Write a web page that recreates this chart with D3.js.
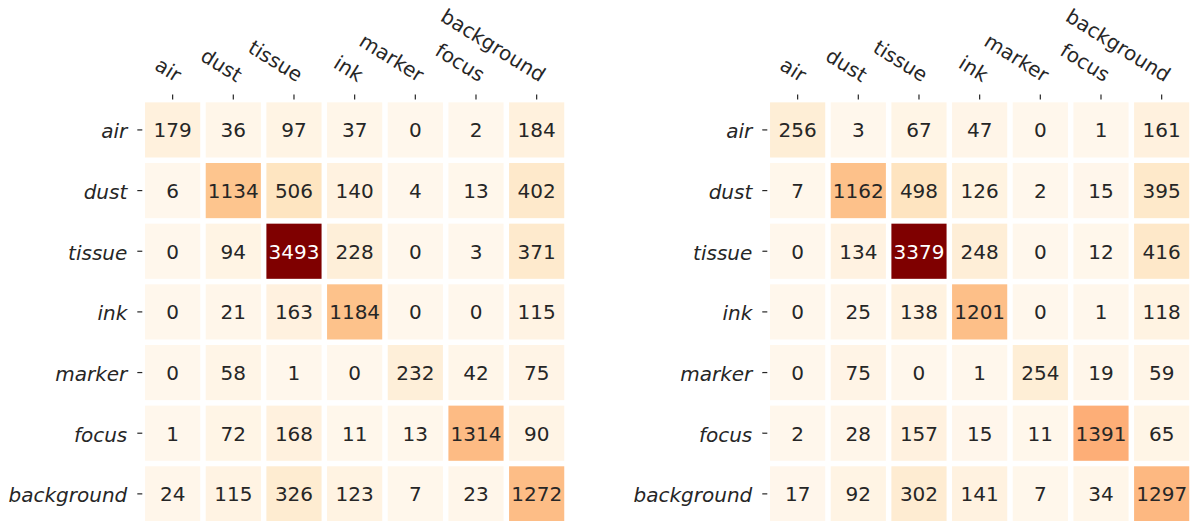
<!DOCTYPE html>
<html>
<head>
<meta charset="utf-8">
<script src="https://cdn.jsdelivr.net/npm/d3@7"></script>
<style>
  html, body { margin: 0; padding: 0; background: #fff; }
  svg { display: block; font-family: "DejaVu Sans", sans-serif; }
</style>
</head>
<body>
<svg id="chart" width="1190" height="521"></svg>
<script>
// ---- data ----
const categories = ["air", "dust", "tissue", "ink", "marker", "focus", "background"];

const leftValues = [
  [179, 36, 97, 37, 0, 2, 184],
  [6, 1134, 506, 140, 4, 13, 402],
  [0, 94, 3493, 228, 0, 3, 371],
  [0, 21, 163, 1184, 0, 0, 115],
  [0, 58, 1, 0, 232, 42, 75],
  [1, 72, 168, 11, 13, 1314, 90],
  [24, 115, 326, 123, 7, 23, 1272]
];

const rightValues = [
  [256, 3, 67, 47, 0, 1, 161],
  [7, 1162, 498, 126, 2, 15, 395],
  [0, 134, 3379, 248, 0, 12, 416],
  [0, 25, 138, 1201, 0, 1, 118],
  [0, 75, 0, 1, 254, 19, 59],
  [2, 28, 157, 15, 11, 1391, 65],
  [17, 92, 302, 141, 7, 34, 1297]
];

const orRdColors = ["#fff7ec","#fee8c8","#fdd49e","#fdbb84","#fc8d59","#ef6548","#d7301f","#b30000","#7f0000"];

// ---- layout ----
const svg = d3.select("#chart");
const panels = [
  { values: leftValues, x0: 142.3, x1: 567.0 },
  { values: rightValues, x0: 767.3, x1: 1192.0 }
];
const yTop = 99.6, yBot = 524.2;
const gap = 5.5;
const fontSize = 20;
const tickLen = 5;
const textDark = "#262626";

function luminance(c) {
  const rgb = d3.rgb(c);
  const f = v => { v /= 255; return v <= 0.03928 ? v / 12.92 : Math.pow((v + 0.055) / 1.055, 2.4); };
  return 0.2126 * f(rgb.r) + 0.7152 * f(rgb.g) + 0.0722 * f(rgb.b);
}

panels.forEach(p => {
  const x = d3.scaleBand().domain(categories).range([p.x0, p.x1]).padding(0);
  const y = d3.scaleBand().domain(categories).range([yTop, yBot]).padding(0);
  const vmax = d3.max(p.values.flat());
  const vmin = d3.min(p.values.flat());
  const color = d3.scaleLinear()
    .domain(orRdColors.map((c, i) => vmin + (vmax - vmin) * i / (orRdColors.length - 1)))
    .range(orRdColors)
    .interpolate(d3.interpolateRgb);

  const g = svg.append("g");
  const cells = [];
  p.values.forEach((row, ri) => row.forEach((v, ci) => cells.push({ r: categories[ri], c: categories[ci], v })));

  g.selectAll("rect.cell").data(cells).join("rect")
    .attr("class", "cell")
    .attr("x", d => x(d.c) + gap / 2)
    .attr("y", d => y(d.r) + gap / 2)
    .attr("width", x.bandwidth() - gap)
    .attr("height", y.bandwidth() - gap)
    .attr("fill", d => color(d.v));

  g.selectAll("text.annot").data(cells).join("text")
    .attr("class", "annot")
    .attr("x", d => x(d.c) + x.bandwidth() / 2)
    .attr("y", d => y(d.r) + y.bandwidth() / 2 + fontSize * 0.3645)
    .attr("text-anchor", "middle")
    .attr("font-size", fontSize)
    .attr("fill", d => luminance(color(d.v)) > 0.408 ? textDark : "#ffffff")
    .text(d => d.v);

  // top x ticks
  g.selectAll("line.xtick").data(categories).join("line")
    .attr("x1", d => x(d) + x.bandwidth() / 2)
    .attr("x2", d => x(d) + x.bandwidth() / 2)
    .attr("y1", yTop - tickLen)
    .attr("y2", yTop)
    .attr("stroke", textDark)
    .attr("stroke-width", 1.2);

  g.selectAll("text.xlab").data(categories).join("text")
    .attr("class", "xlab")
    .attr("transform", d => `translate(${x(d) + x.bandwidth() / 2 + 3},${yTop - tickLen - 12}) rotate(32)`)
    .attr("text-anchor", "end")
    .attr("font-size", fontSize)
    .attr("fill", textDark)
    .text(d => d);

  // left y ticks
  g.selectAll("line.ytick").data(categories).join("line")
    .attr("x1", p.x0 - tickLen)
    .attr("x2", p.x0)
    .attr("y1", d => y(d) + y.bandwidth() / 2)
    .attr("y2", d => y(d) + y.bandwidth() / 2)
    .attr("stroke", textDark)
    .attr("stroke-width", 1.2);

  g.selectAll("text.ylab").data(categories).join("text")
    .attr("class", "ylab")
    .attr("x", p.x0 - tickLen - 10)
    .attr("y", d => y(d) + y.bandwidth() / 2 + 8.5)
    .attr("text-anchor", "end")
    .attr("font-size", fontSize)
    .attr("font-style", "italic")
    .attr("fill", textDark)
    .text(d => d);
});
</script>
</body>
</html>
